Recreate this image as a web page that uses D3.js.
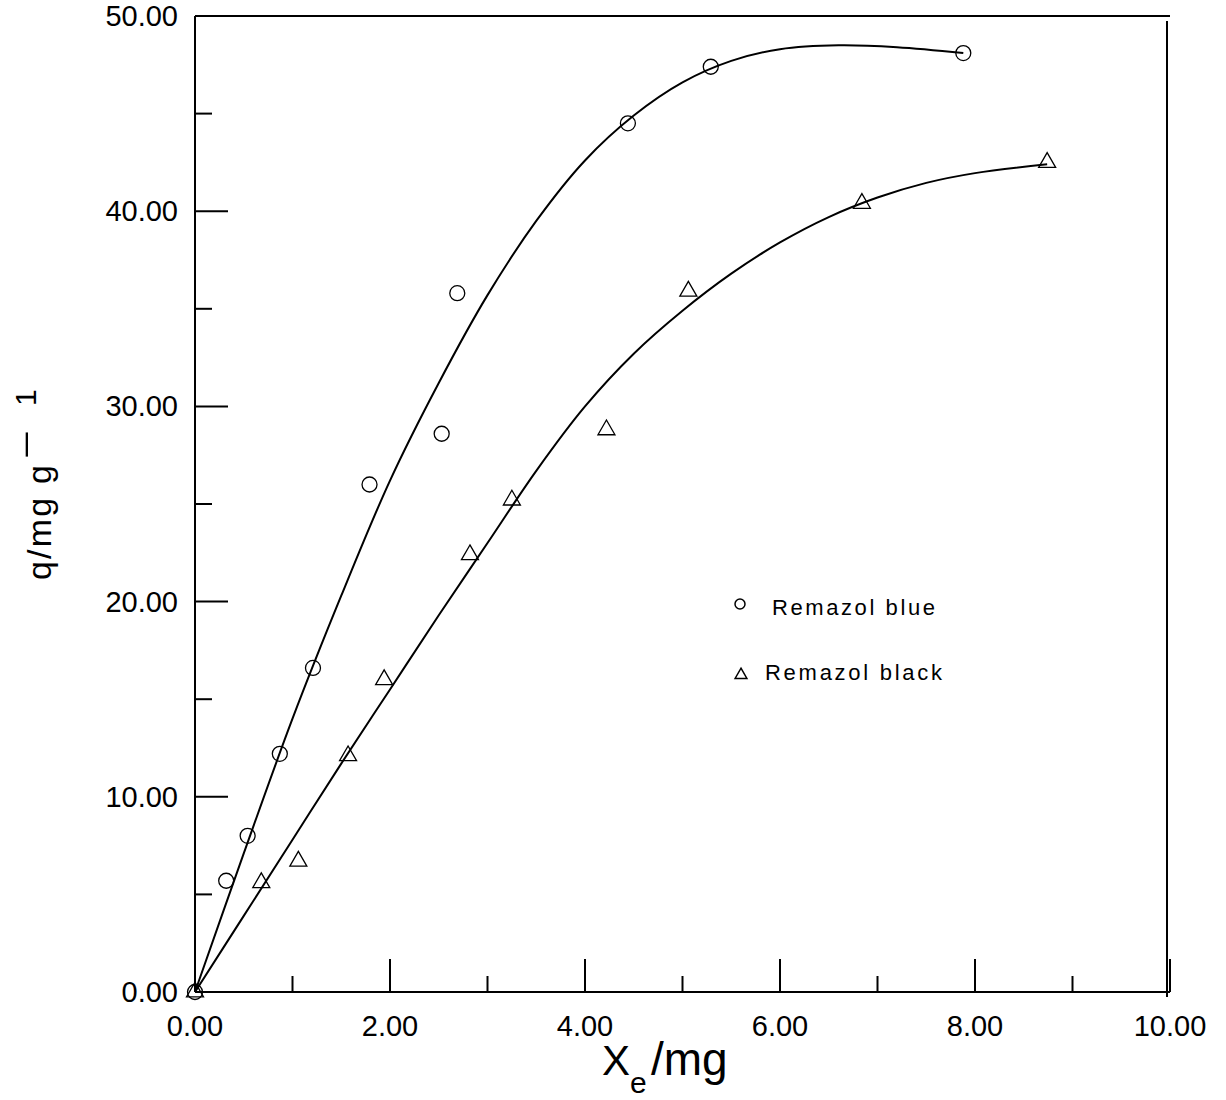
<!DOCTYPE html>
<html><head><meta charset="utf-8">
<script src="https://cdn.jsdelivr.net/npm/d3@7"></script>
<style>
html,body{margin:0;padding:0;background:#fff;}
svg text{font-family:Arial,"Liberation Sans",sans-serif;fill:#000;}
</style></head>
<body><svg id="c" width="1226" height="1100"></svg>
<script>
// ---- data ----
const blueX = [0, 0.32, 0.54, 0.87, 1.21, 1.79, 2.53, 2.69, 4.44, 5.29, 7.88];
const blueY = [0, 5.7, 8.0, 12.2, 16.6, 26.0, 28.6, 35.8, 44.5, 47.4, 48.1];
const blackX = [0, 0.68, 1.06, 1.57, 1.94, 2.82, 3.25, 4.22, 5.06, 6.84, 8.74];
const blackY = [0, 5.6, 6.7, 12.1, 16.0, 22.4, 25.2, 28.8, 35.9, 40.4, 42.5];
// fitted curves
const blueFitX = [0, 0.5, 1, 1.5, 2, 2.5, 3, 3.5, 4, 4.5, 5, 5.5, 6, 6.6, 7.2, 7.88];
const blueFitY = [0, 7.1, 14.0, 20.3, 26.2, 31.2, 35.7, 39.5, 42.6, 44.9, 46.6, 47.7, 48.3, 48.5, 48.4, 48.1];
const blackFitX = [0, 0.5, 1, 1.5, 2, 2.5, 3, 3.5, 4, 4.5, 5, 5.5, 6, 6.5, 7, 7.5, 8, 8.74];
const blackFitY = [0, 3.9, 7.8, 11.7, 15.5, 19.3, 23.0, 26.7, 30.0, 32.7, 34.9, 36.8, 38.4, 39.7, 40.7, 41.45, 41.95, 42.4];
const xTicks = [0, 2, 4, 6, 8, 10];
const xMinor = [1, 3, 5, 7, 9];
const yTicks = [0, 10, 20, 30, 40, 50];
const yMinor = [5, 15, 25, 35, 45];
const legendLabels = ["Remazol blue", "Remazol black"];

const svg = d3.select("#c");
const x = d3.scaleLinear().domain([0, 10]).range([195, 1170]);
const y = d3.scaleLinear().domain([0, 50]).range([992, 16]);
const fmt = d3.format(".2f");

// axes frame
const g = svg.append("g").attr("stroke", "#000").attr("stroke-width", 2).attr("fill", "none");
g.append("line").attr("x1", x(0)).attr("x2", x(0)).attr("y1", y(0)).attr("y2", y(50));
g.append("line").attr("x1", x(0)).attr("x2", x(10)).attr("y1", y(0)).attr("y2", y(0));
g.append("line").attr("x1", x(0)).attr("x2", x(10)).attr("y1", y(50)).attr("y2", y(50));
g.append("line").attr("x1", x(10) - 3).attr("x2", x(10) - 3).attr("y1", y(50) + 5).attr("y2", y(0) + 5);

// x ticks
xTicks.forEach(v => {
  g.append("line").attr("x1", x(v)).attr("x2", x(v)).attr("y1", y(0)).attr("y2", y(0) - 33);
  svg.append("text").attr("x", x(v)).attr("y", 1036).attr("text-anchor", "middle")
    .attr("font-size", 29).text(fmt(v));
});
xMinor.forEach(v => {
  g.append("line").attr("x1", x(v)).attr("x2", x(v)).attr("y1", y(0)).attr("y2", y(0) - 16);
});
// y ticks
yTicks.forEach(v => {
  g.append("line").attr("x1", x(0)).attr("x2", x(0) + 33).attr("y1", y(v)).attr("y2", y(v));
  svg.append("text").attr("x", 178).attr("y", y(v) + 10).attr("text-anchor", "end")
    .attr("font-size", 29).text(fmt(v));
});
yMinor.forEach(v => {
  g.append("line").attr("x1", x(0)).attr("x2", x(0) + 17).attr("y1", y(v)).attr("y2", y(v));
});

// curves
const line = d3.line().x(d => x(d[0])).y(d => y(d[1])).curve(d3.curveCatmullRom.alpha(0.5));
svg.append("path").datum(blueFitX.map((v, i) => [v, blueFitY[i]]))
  .attr("d", line).attr("fill", "none").attr("stroke", "#000").attr("stroke-width", 2);
svg.append("path").datum(blackFitX.map((v, i) => [v, blackFitY[i]]))
  .attr("d", line).attr("fill", "none").attr("stroke", "#000").attr("stroke-width", 2);

// markers
svg.append("g").selectAll("circle").data(blueX.map((v, i) => [v, blueY[i]])).join("circle")
  .attr("cx", d => x(d[0])).attr("cy", d => y(d[1])).attr("r", 7.5)
  .attr("fill", "none").attr("stroke", "#000").attr("stroke-width", 1.3);
const tri = d3.symbol().type(d3.symbolTriangle).size(125);
svg.append("g").selectAll("path").data(blackX.map((v, i) => [v, blackY[i]])).join("path")
  .attr("d", tri).attr("transform", d => `translate(${x(d[0])},${y(d[1])})`)
  .attr("fill", "none").attr("stroke", "#000").attr("stroke-width", 1.3);

// legend
svg.append("circle").attr("cx", 740).attr("cy", 604).attr("r", 5)
  .attr("fill", "none").attr("stroke", "#000").attr("stroke-width", 1.5);
svg.append("text").attr("x", 772).attr("y", 615).attr("font-size", 22)
  .attr("textLength", 163).attr("lengthAdjust", "spacing").text(legendLabels[0]);
svg.append("path").attr("d", d3.symbol().type(d3.symbolTriangle).size(60))
  .attr("transform", "translate(741,675)").attr("fill", "none").attr("stroke", "#000").attr("stroke-width", 1.5);
svg.append("text").attr("x", 765).attr("y", 680).attr("font-size", 22)
  .attr("textLength", 177).attr("lengthAdjust", "spacing").text(legendLabels[1]);

// axis titles
svg.append("text").attr("x", 602).attr("y", 1075).attr("font-size", 42).text("X");
svg.append("text").attr("x", 630).attr("y", 1093).attr("font-size", 30).text("e");
svg.append("text").attr("x", 651).attr("y", 1075).attr("font-size", 46).text("/mg");

svg.append("text").attr("transform", "translate(51,580) rotate(-90)")
  .attr("font-size", 34).attr("textLength", 115).attr("lengthAdjust", "spacing").text("q/mg g");
svg.append("text").attr("transform", "translate(35,461) rotate(-90)")
  .attr("font-size", 30).attr("textLength", 33).attr("lengthAdjust", "spacingAndGlyphs").text("-");
svg.append("text").attr("transform", "translate(36,406) rotate(-90)")
  .attr("font-size", 30).text("1");
</script></body></html>
